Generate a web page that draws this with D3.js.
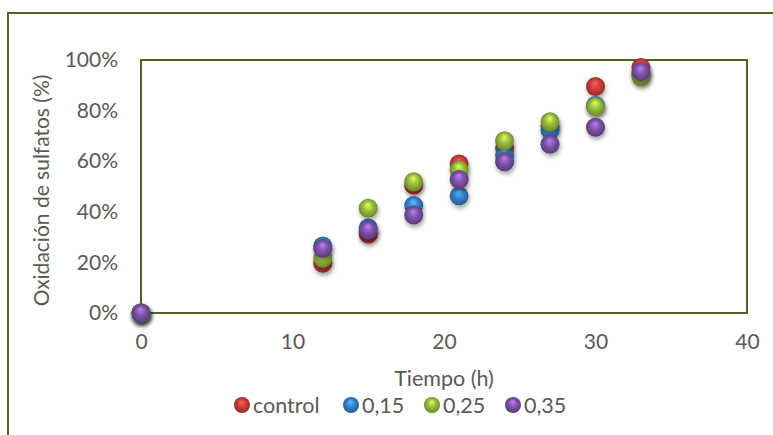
<!DOCTYPE html>
<html>
<head>
<meta charset="utf-8">
<script src="https://cdn.jsdelivr.net/npm/d3@7"></script>
<style>
  body { margin: 0; background: #fff; }
  text { font-family: Lato, "Open Sans", sans-serif; fill: #595959; }
</style>
</head>
<body>
<svg id="canvas" width="773" height="435"></svg>
<script>
// tiempo (h) y oxidacion (%) por serie
let tiempo = [0, 12, 15, 18, 21, 24, 27, 30, 33]
let control = [0, 19.7, 31.2, 50.6, 58.9, 65.2, 74, 89.5, 97]
let serie015 = [0, 26.5, 33.6, 42.5, 46.3, 62.5, 72.3, 82, 94.5]
let serie025 = [0, 21.7, 41.4, 51.9, 56.5, 68.1, 75.6, 81.6, 93.4]
let serie035 = [0, 25.5, 32.8, 38.7, 52.8, 59.8, 66.7, 73.4, 95.4]
let seriesNames = ["control", "0,15", "0,25", "0,35"]
let xTicks = [0, 10, 20, 30, 40]
let yTicks = [0, 20, 40, 60, 80, 100]

let colors = ["#d0403b", "#3a83cf", "#9ac23f", "#8056ab"]
let allSeries = [control, serie015, serie025, serie035]

let canvas = d3.select("#canvas")
let defs = canvas.append("defs")

colors.forEach((c, i) => {
    let g = defs.append("radialGradient")
        .attr("id", "ball" + i)
        .attr("cx", "50%").attr("cy", "50%").attr("r", "55%")
        .attr("fx", "48%").attr("fy", "30%")
    g.append("stop").attr("offset", "0%").attr("stop-color", d3.color(c).brighter(1.1))
    g.append("stop").attr("offset", "45%").attr("stop-color", c)
    g.append("stop").attr("offset", "100%").attr("stop-color", d3.color(c).darker(1.2))
})

let shadow = defs.append("filter").attr("id", "shadow")
    .attr("x", "-50%").attr("y", "-50%").attr("width", "200%").attr("height", "200%")
shadow.append("feDropShadow")
    .attr("dx", 1).attr("dy", 3).attr("stdDeviation", 2)
    .attr("flood-color", "#000").attr("flood-opacity", 0.35)

// outer chart border
canvas.append("rect")
    .attr("x", 8).attr("y", 13)
    .attr("width", 800).attr("height", 500)
    .attr("fill", "none")
    .attr("stroke", "#4f6228")
    .attr("stroke-width", 2)

let plotLeft = 141, plotRight = 747, plotTop = 60, plotBottom = 313

let x = d3.scaleLinear().domain([0, 40]).range([plotLeft, plotRight])
let y = d3.scaleLinear().domain([0, 100]).range([plotBottom, plotTop])

let xAxis = d3.axisBottom(x).tickValues(xTicks).tickSize(0).tickPadding(21)
let yAxis = d3.axisLeft(y).tickValues(yTicks).tickSize(0).tickPadding(23)
    .tickFormat((d) => d + "%")

canvas.append("g")
    .attr("transform", `translate(0,${plotBottom})`)
    .call(xAxis)
    .call((g) => g.select(".domain").remove())
    .selectAll("text")
    .style("font-size", "21px")
    .attr("fill", "#595959")

canvas.append("g")
    .attr("transform", `translate(${plotLeft},0)`)
    .call(yAxis)
    .call((g) => g.select(".domain").remove())
    .selectAll("text")
    .style("font-size", "21px")
    .attr("fill", "#595959")

// plot area
canvas.append("rect")
    .attr("x", plotLeft).attr("y", plotTop)
    .attr("width", plotRight - plotLeft).attr("height", plotBottom - plotTop)
    .attr("fill", "none")
    .attr("stroke", "#4f6228")
    .attr("stroke-width", 2)

canvas.append("text")
    .attr("transform", `translate(49,${(plotTop + plotBottom) / 2 + 4}) rotate(-90)`)
    .attr("text-anchor", "middle")
    .style("font-size", "21px")
    .text("Oxidación de sulfatos (%)")

canvas.append("text")
    .attr("x", 444).attr("y", 386)
    .attr("text-anchor", "middle")
    .style("font-size", "21.5px")
    .text("Tiempo (h)")

allSeries.forEach((vals, i) => {
    canvas.append("g")
        .selectAll("circle")
        .data(vals)
        .enter()
        .append("circle")
        .attr("cx", (d, j) => x(tiempo[j]))
        .attr("cy", (d) => y(d))
        .attr("r", 9.5)
        .attr("fill", `url(#ball${i})`)
        .attr("filter", "url(#shadow)")
})

// legend
let legendX = [242, 351, 432, 513]
let legend = canvas.append("g")
    .selectAll("g")
    .data(seriesNames)
    .enter()
    .append("g")
    .attr("transform", (d, i) => `translate(${legendX[i]},405)`)
legend.append("circle")
    .attr("r", 8)
    .attr("fill", (d, i) => `url(#ball${i})`)
legend.append("text")
    .attr("x", 11)
    .attr("dy", "0.35em")
    .style("font-size", "21.5px")
    .text((d) => d)
</script>
</body>
</html>
